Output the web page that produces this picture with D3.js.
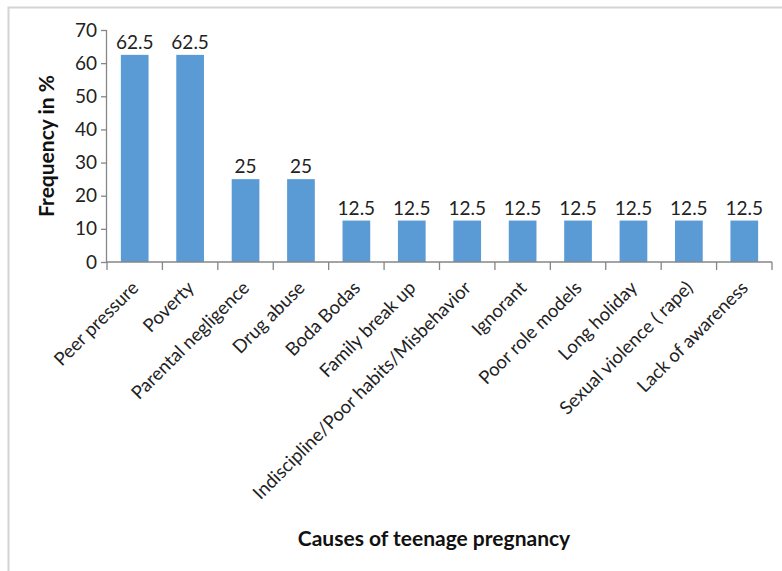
<!DOCTYPE html>
<html><head><meta charset="utf-8">
<script src="https://cdn.jsdelivr.net/npm/d3@7"></script>
<style>body{margin:0;background:#fff;} text{font-family:Lato,"Open Sans",sans-serif;}</style>
</head><body>
<svg id="c" width="782" height="571"></svg>
<script>
const categories = ["Peer pressure","Poverty","Parental negligence","Drug abuse","Boda Bodas","Family break up","Indiscipline/Poor habits/Misbehavior","Ignorant","Poor role models","Long holiday","Sexual violence ( rape)","Lack of awareness"];
const values = [62.5,62.5,25,25,12.5,12.5,12.5,12.5,12.5,12.5,12.5,12.5];
const yTicks = [0,10,20,30,40,50,60,70];

const svg = d3.select("#c");
// frame
svg.append("rect").attr("x",8.5).attr("y",7.5).attr("width",800).attr("height",600)
  .attr("fill","none").attr("stroke","#d4d4d4").attr("stroke-width",2);

const pLeft=107, pRight=772, pTop=30, pBottom=262;
const x = d3.scaleBand().domain(categories).range([pLeft,pRight]).paddingInner(0.5).paddingOuter(0.25);
const y = d3.scaleLinear().domain([0,70]).range([pBottom,pTop]);
const axisColor="#868686";

svg.selectAll("rect.bar").data(values).enter().append("rect").attr("class","bar")
  .attr("x",(d,i)=>x(categories[i])).attr("width",x.bandwidth())
  .attr("y",d=>y(d)).attr("height",d=>y(0)-y(d)).attr("fill","#5b9bd5");

svg.selectAll("text.val").data(values).enter().append("text").attr("class","val")
  .attr("x",(d,i)=>x(categories[i])+x.bandwidth()/2).attr("y",d=>y(d)-6)
  .attr("text-anchor","middle").attr("font-size",19).attr("fill","#222").text(d=>d);

// y axis
const ya = svg.append("g").attr("transform",`translate(${pLeft},0)`)
  .call(d3.axisLeft(y).tickValues(yTicks).tickSize(6).tickPadding(4));
ya.select(".domain").attr("stroke",axisColor).attr("stroke-width",1.3).attr("d",`M-0.5,${pTop}V${pBottom}`);
ya.selectAll(".tick line").attr("stroke",axisColor).attr("stroke-width",1.3);
ya.selectAll(".tick text").attr("font-size",19).attr("fill","#222").style("font-family","Lato");

// x axis
const xg = svg.append("g").attr("transform",`translate(0,${pBottom})`);
xg.append("line").attr("x1",pLeft-1).attr("x2",pRight).attr("stroke",axisColor).attr("stroke-width",1.3);
const bounds = d3.range(categories.length+1).map(i=>pLeft+i*(pRight-pLeft)/categories.length);
xg.selectAll("line.t").data(bounds).enter().append("line").attr("class","t")
  .attr("x1",d=>d).attr("x2",d=>d).attr("y1",0).attr("y2",8).attr("stroke",axisColor).attr("stroke-width",1.3);
xg.selectAll("text.cat").data(categories).enter().append("text").attr("class","cat")
  .attr("transform",d=>`translate(${x(d)+x.bandwidth()/2+5},${27}) rotate(-45)`)
  .attr("text-anchor","end").attr("font-size",18.5).attr("fill","#222").text(d=>d);

// titles
svg.append("text").attr("x",434).attr("y",546).attr("text-anchor","middle")
  .attr("font-size",21).attr("font-weight","bold").attr("fill","#111").text("Causes of teenage pregnancy");
svg.append("text").attr("transform","translate(54,146) rotate(-90)").attr("text-anchor","middle")
  .attr("font-size",21).attr("font-weight","bold").attr("fill","#111").text("Frequency in %");
</script>
</body></html>
